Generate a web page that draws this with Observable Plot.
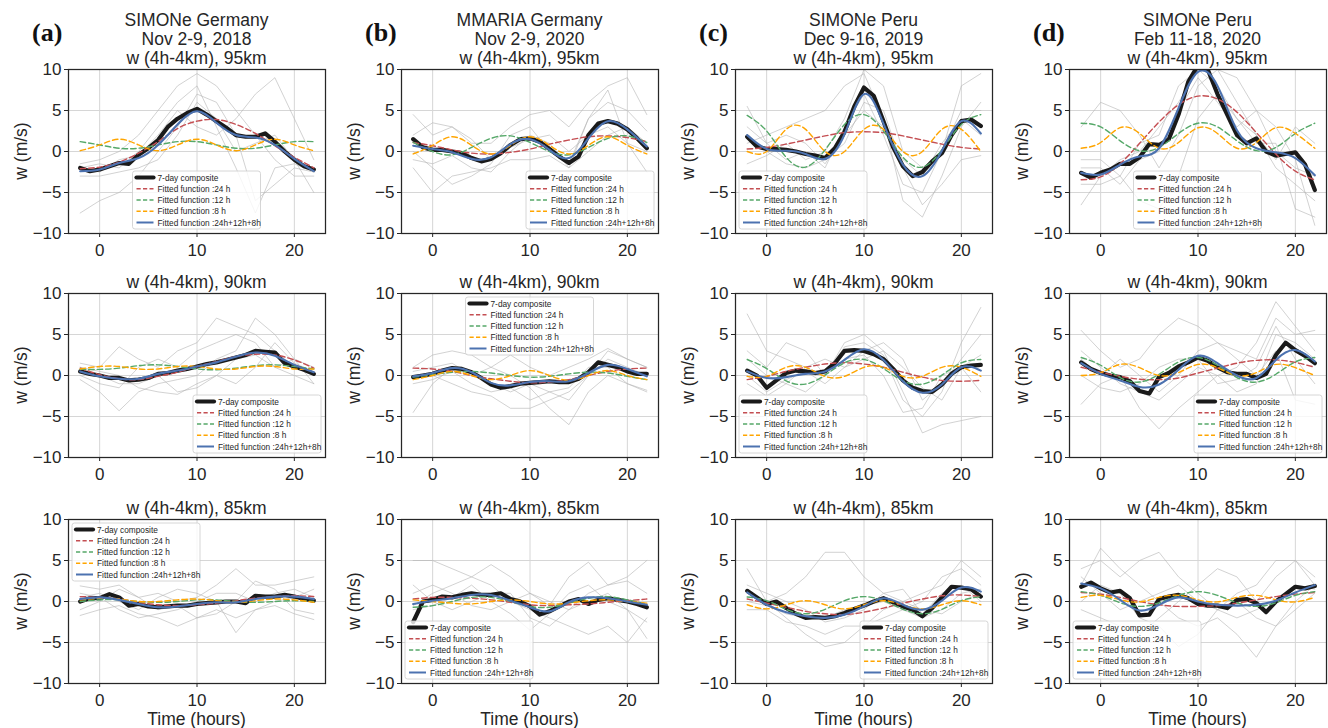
<!DOCTYPE html>
<html>
<head>
<meta charset="utf-8">
<script src="https://cdn.jsdelivr.net/npm/d3@7"></script>
<script src="https://cdn.jsdelivr.net/npm/@observablehq/plot@0.6"></script>
<style>
  html, body { margin: 0; padding: 0; background: #fff; }
  #root { position: relative; width: 1328px; height: 728px; overflow: hidden; background: #fff; }
  #root > .panel { position: absolute; }
  #overlay { position: absolute; left: 0; top: 0; z-index: 5; pointer-events: none; }
</style>
</head>
<body>
<div id="root"></div>
<script>
// ---------------- DATA ----------------
const hoursFit  = [-2, 0, 2, 4, 6, 8, 10, 12, 14, 16, 18, 20, 22];
const hoursComp = [-2, -1, 0, 1, 2, 3, 4, 5, 6, 7, 8, 9, 10, 11, 12, 13, 14, 15, 16, 17, 18, 19, 20, 21, 22];
const xTicks = [0, 10, 20];
const yTicks = [-10, -5, 0, 5, 10];

const siteNames = ["SIMONe Germany", "MMARIA Germany", "SIMONe Peru", "SIMONe Peru"];
const periods   = ["Nov 2-9, 2018", "Nov 2-9, 2020", "Dec 9-16, 2019", "Feb 11-18, 2020"];
const letters   = ["(a)", "(b)", "(c)", "(d)"];
const altitudes = ["95km", "90km", "85km"];
const legendLabels = ["7-day composite", "Fitted function :24 h", "Fitted function :12 h", "Fitted function :8 h", "Fitted function :24h+12h+8h"];

// ---- (a) SIMONe Germany 2018 ----
const a95_comp = [-2.0,-2.4,-2.2,-1.8,-1.4,-1.5,-0.4,0.4,1.4,3.0,4.0,4.7,5.2,4.5,3.7,2.9,2.0,1.8,1.8,2.2,1.2,0.0,-1.0,-1.8,-2.2];
const a95_f24  = [-2.1,-1.9,-1.3,-0.2,1.2,2.8,3.7,3.9,3.3,2.2,0.7,-0.7,-2.0];
const a95_f12  = [1.2,0.8,0.4,0.4,0.8,1.2,1.2,0.8,0.4,0.4,0.8,1.2,1.2];
const a95_f8   = [0.1,0.8,1.5,0.8,0.1,0.8,1.5,0.8,0.1,0.8,1.5,0.8,0.1];
const a95_fall = [-2.4,-2.2,-1.4,-0.8,0.8,3.3,4.9,3.5,2.0,1.7,0.8,-0.9,-2.4];
const a95_gray = [
  [-1.5,-1,0,2,5,8,9.5,8,5,2,-1,-3,-3],
  [-7.5,-6,-5,-3,0,3,7,6,2,-6,-4,-2,-2.5],
  [-2,-2.5,-1,-0.5,2,5,3,2,4,7,9,4,-1],
  [-3,-3,-2.5,-2,-1,2,6,4,0,1,2,-1,-5],
  [-2,-1.5,-2,0,3,6,8,3,-2,-7.5,-2,-1.5,-2.5]
];
const a90_comp = [0.5,0.2,0.0,-0.3,-0.3,-0.6,-0.5,-0.3,0.2,0.3,0.6,0.8,1.1,1.4,1.6,1.9,2.2,2.5,3.0,2.9,2.8,1.5,1.1,0.7,0.2];
const a90_f24  = [0.9,0.1,-0.4,-0.5,-0.1,0.4,1.1,1.7,2.3,2.6,2.5,1.9,0.9];
const a90_f12  = [0.75,0.75,0.9,1.2,1.3,1.1,0.8,0.7,0.9,1.2,1.3,1.1,0.8];
const a90_f8   = [0.8,1.1,1.1,0.8,0.8,1.1,1.1,0.8,0.8,1.1,1.1,0.8,0.8];
const a90_fall = [0.5,-0.1,-0.4,-0.4,0.2,0.6,1.1,1.6,2.3,2.8,2.4,1.3,0.4];
const a90_gray = [
  [1.5,1,3.5,2,1,3,4,7,6,5,3,1,0],
  [-0.5,-2,-4.3,-2,-1,-0.5,0,2,3,7,5,2,-1],
  [1,0.5,0,-1.5,-2,-2.3,-1,0,-1,1,4,1.5,0.5],
  [0,-1,-1.5,1,2,1,3,4,5,4,1,0,-1],
  [1,0,-1,-1,0,-2,-1.5,0,2,2.5,1,2,1]
];
const a85_comp = [0.0,0.4,0.4,0.9,0.5,-0.5,-0.3,-0.6,-0.7,-0.6,-0.5,-0.5,-0.3,-0.2,-0.1,0.0,0.0,-0.2,0.7,0.6,0.6,0.8,0.6,0.3,0.1];
const a85_f24  = [0.6,0.5,0.3,-0.1,-0.4,-0.5,-0.4,-0.2,0.1,0.4,0.6,0.7,0.6];
const a85_f12  = [0.0,0.2,0.2,0.0,-0.1,0.0,0.2,0.2,0.0,-0.1,0.0,0.1,0.0];
const a85_f8   = [0.2,0.4,0.3,0.0,0.0,0.2,0.3,0.1,-0.1,0.1,0.3,0.2,-0.1];
const a85_fall = [0.3,0.5,0.2,-0.3,-0.7,-0.6,-0.3,-0.1,-0.1,0.3,0.6,0.6,0.3];
const a85_gray = [
  [-1.7,-1,-0.5,-1.5,-2,-3,-2,-1,-2,-1,-0.5,-1.5,-2.2],
  [1.9,1.5,2,0.5,1,0,0.5,2,4,2,2,2.5,3],
  [0.5,1,0,-1,0.5,1.5,1,0,-3.8,-1,0,0.5,1.5],
  [-1,0,1.5,0.5,-1,-0.5,-2,-1.5,0,2.5,1.5,-1,-1.5],
  [1,0.5,-1,-2,-1.5,-1,0,1,1,0,1,1.5,0.5]
];

// ---- (b) MMARIA Germany 2020 ----
const b95_comp = [1.5,0.5,0.2,0.2,0.0,-0.2,-0.8,-1.2,-0.9,-0.2,0.8,1.5,1.6,1.2,0.3,-0.6,-1.4,-0.6,2.0,3.4,3.7,3.4,2.7,1.6,0.4];
const b95_f24  = [1.1,0.7,0.2,-0.2,-0.3,-0.1,0.3,0.9,1.4,1.8,1.9,1.7,1.2];
const b95_f12  = [1.1,0.0,-0.4,0.5,1.6,1.9,1.1,0.0,-0.4,0.5,1.6,1.9,1.1];
const b95_f8   = [-0.3,0.75,1.8,0.75,-0.3,0.75,1.8,0.75,-0.3,0.75,1.8,0.75,-0.3];
const b95_fall = [0.7,0.3,-0.1,-0.9,-0.7,0.9,1.5,0.2,-0.8,1.6,3.7,2.7,0.6];
const b95_gray = [
  [4.5,2,3,1,1,3,4.5,5,3,6,8,9,4.5],
  [-2,-5,-3,-2.5,-2,-1,-1,-0.5,-2,4,6,5,2.5],
  [2,3.5,3,1.5,-1,0.5,1.5,2,0,2,3,1,-2.5],
  [-1,-1.5,-0.5,-2,-2.5,0,2,1,-2,0,2,3,1],
  [0,-2,-4,-3,-1.5,2,3,0,-1.5,4,7.5,1,0]
];
const b90_comp = [-0.2,0.0,0.2,0.6,0.9,0.8,0.4,-0.3,-1.1,-1.5,-1.3,-1.0,-0.9,-0.8,-0.7,-0.8,-0.8,-0.4,0.4,1.6,1.3,1.0,0.5,0.2,0.2];
const b90_f24  = [0.9,0.8,0.5,0.0,-0.4,-0.7,-0.9,-0.8,-0.5,0.0,0.5,0.8,0.9];
const b90_f12  = [-0.2,0.1,0.4,0.5,0.3,0.0,-0.2,-0.1,0.2,0.4,0.3,-0.1,-0.5];
const b90_f8   = [-0.5,0.0,0.5,0.0,-0.5,0.0,0.6,0.0,-0.6,0.0,0.6,0.0,-0.5];
const b90_fall = [-0.1,0.3,0.9,0.4,-0.9,-1.2,-0.8,-0.7,-0.7,0.3,1.3,0.8,-0.1];
const b90_gray = [
  [-4.5,-1,1,0.5,-1,-2,-1,-2,-3,0,2,1,0],
  [1,2.5,3,2.5,1,0,-1.5,-4,-6,-2,0,-1,-2],
  [0,0,-1,-2,-2.5,-4,-4,-3,-2,0,3,2,1],
  [0.5,1,1.5,0,1,2.5,1,0,1,2,3.3,2,1],
  [-1,-0.5,0.5,-1,-2,-1.5,-3,-2,-1.5,1,1,-1,-1.8]
];
const b85_comp = [-2.5,0.0,0.2,0.6,0.5,0.8,1.0,0.8,0.8,1.0,0.3,0.0,-0.6,-1.6,-1.2,-0.6,0.0,0.3,-0.3,0.2,0.4,0.2,0.0,-0.3,-0.7];
const b85_f24  = [0.3,0.5,0.5,0.4,0.2,-0.1,-0.4,-0.5,-0.4,-0.3,-0.1,0.1,0.3];
const b85_f12  = [-0.7,-0.5,0.0,0.5,0.5,0.0,-0.6,-0.7,-0.2,0.4,0.6,0.2,-0.3];
const b85_f8   = [0.2,0.0,-0.2,-0.3,0.0,0.2,0.0,-0.3,-0.2,0.1,0.2,0.0,-0.2];
const b85_fall = [-0.3,0.1,0.4,0.8,0.8,0.1,-0.7,-1.2,-0.1,0.5,0.4,0.0,-0.4];
const b85_gray = [
  [5,5,4,3,2,0,-1,-2,-3,-4,-3,-5,-2],
  [-0.5,1,2,3,4.5,3,1,-0.5,3,4.8,2,3,5],
  [2,0,-1,0,1,1,-2,-3,-1,0,1,-1,-4.5],
  [-1,-0.5,0.5,2,0,-1.5,-3.5,-1.5,1,2,0,-1,-2.5],
  [1,2,1,-0.5,-1,0,1,0,-1,1,2,2.5,1]
];

// ---- (c) SIMONe Peru Dec 2019 ----
const c95_comp = [1.8,0.6,0.3,0.3,0.2,0.0,-0.3,-0.5,-0.8,0.4,2.4,5.5,7.8,6.8,3.7,0.5,-1.8,-3.0,-2.5,-1.2,-0.2,2.0,3.7,3.9,3.1];
const c95_f24  = [0.3,0.5,0.9,1.4,1.9,2.3,2.4,2.3,1.9,1.4,0.9,0.5,0.3];
const c95_f12  = [4.4,2.5,-0.7,-1.9,0.2,3.3,4.5,2.5,-0.7,-1.9,0.2,3.3,4.5];
const c95_f8   = [0.0,0.0,2.7,2.7,0.0,0.0,2.7,2.7,0.0,0.0,2.7,2.7,0.0];
const c95_fall = [2.0,0.3,0.1,-0.3,-0.9,2.1,7.0,3.4,-1.6,-3.0,0.1,3.7,2.2];
const c95_gray = [
  [1,2,3,4,5,8,9.5,4,-6,-8,-3,3,6],
  [5.5,1,-1,0,-2,3,7,2,-4,-5,0,8,9.5],
  [2,0,-1.5,-2,-1,1,6,5,-2,-6.5,-4,-1,-0.5],
  [-1.5,-0.5,1,-1,0,4,10,8,0,-2,0,5,5],
  [3,1,2,1,-1.5,2,5,3,-1,-3,1,4,2]
];
const c90_comp = [0.6,0.0,-1.5,-0.6,0.3,0.6,0.5,0.3,0.5,1.5,3.0,3.1,3.0,2.6,2.0,0.8,-0.6,-1.5,-1.9,-2.0,-1.1,0.2,1.0,1.2,1.3];
const c90_f24  = [-0.5,-0.1,0.5,1.0,1.4,1.55,1.4,1.0,0.4,-0.2,-0.6,-0.7,-0.6];
const c90_f12  = [1.95,0.85,-0.65,-1.05,0.05,1.55,1.95,0.85,-0.65,-1.05,0.05,1.55,1.95];
const c90_f8   = [-0.1,-0.1,1.0,1.0,-0.1,-0.1,1.0,1.0,-0.1,-0.1,1.0,1.0,-0.1];
const c90_fall = [0.5,-0.3,-0.2,0.2,0.5,1.9,3.2,1.9,-0.7,-2.1,-1.1,1.0,0.6];
const c90_gray = [
  [7.5,3,2,1,0,4,5,3,-2,-7,-6,-5.5,-5],
  [2,0,-1,-2,0,3.5,4,2.5,-3,-5,-2,4,8.3],
  [-1,-2.5,-1,1,2,1,3,4,2,-3,-1,2,5],
  [3,1,4,3,0,2,2.5,0,-4.5,-4,0,1,-2],
  [0,-2,-0.5,0.5,-1,1,2,3,1,-1.5,-3,1,2.5]
];
const c85_comp = [1.3,0.5,-0.3,0.0,-0.8,-1.5,-2.0,-1.9,-2.0,-1.8,-1.4,-0.9,-0.5,0.0,0.4,-0.1,-0.6,-1.0,-1.8,-0.8,0.5,1.8,1.7,1.5,0.6];
const c85_f24  = [0.3,-0.2,-0.7,-1.2,-1.5,-1.6,-1.3,-0.8,-0.2,0.3,0.7,0.8,0.6];
const c85_f12  = [0.55,0.1,-0.95,-1.5,-0.95,0.1,0.6,0.1,-0.95,-1.5,-0.95,0.1,0.6];
const c85_f8   = [-0.4,-0.9,-0.4,0.1,-0.4,-0.9,-0.4,0.1,-0.4,-0.9,-0.4,0.1,-0.4];
const c85_fall = [1.1,-0.4,-1.3,-1.8,-2.0,-1.6,-0.6,0.4,-0.4,-1.0,0.1,1.7,1.2];
const c85_gray = [
  [1,0,1,3,6,6,3,1,0,-1,-1.5,0,1],
  [4,0,-2,-4,-5.5,-5,-3,-1,0,1,2,5,3],
  [-1,-1,-2.5,-3,-4,-3,-3,-2,-1,0,3,4,2],
  [2,1,0,-1,-2.5,-2,-1,1,1.5,-1.5,1,2,0],
  [0,-0.5,-1.5,-2,-2,-1,-0.5,0,-1,-2,-1,1,1.5]
];

// ---- (d) SIMONe Peru Feb 2020 ----
const d95_comp = [-2.6,-3.2,-2.6,-2.2,-1.5,-1.5,-0.7,0.9,0.8,1.5,4.5,8.5,10.5,10.0,7.0,4.5,2.0,1.0,1.6,0.0,-0.5,-0.3,-0.1,-1.6,-4.7];
const d95_f24  = [-3.45,-3.1,-1.5,1.0,3.6,5.7,6.75,6.4,4.8,2.3,-0.3,-2.4,-3.45];
const d95_f12  = [3.45,3.0,1.3,0.1,0.5,2.2,3.45,3.0,1.3,0.1,0.5,2.2,3.45];
const d95_f8   = [0.4,1.1,2.9,2.2,0.4,1.1,2.9,2.2,0.4,1.1,2.9,2.2,0.4];
const d95_fall = [-2.6,-2.8,-1.6,-0.6,0.4,5.3,9.7,8.0,2.6,0.4,-0.1,-0.8,-2.9];
const d95_gray = [
  [-6.5,-3,-1,0,3,6,10,10,6,2,-2,-4,-6],
  [3,6,5,2,-2,2,8,10,9,5,3,-1,-9],
  [-1,-1,-3,-6,-7,-3,4,7,4,1,1,-7,-8],
  [-4,-4,-3,1,2,8,10,8,4,2,-1,3,1],
  [-2,-2,-4,-1,0,5,9,6,3,5,0,-2,-3]
];
const d90_comp = [1.6,0.8,0.3,0.0,-0.2,-0.7,-1.9,-2.2,-0.2,0.3,1.1,1.6,2.2,1.8,1.0,0.4,0.2,0.2,-0.3,0.2,2.5,4.0,3.1,2.4,1.5];
const d90_f24  = [1.0,0.4,-0.1,-0.45,-0.5,-0.3,0.3,0.9,1.5,1.85,1.9,1.6,1.0];
const d90_f12  = [2.2,1.25,-0.25,-0.8,0.15,1.65,2.2,1.25,-0.25,-0.8,0.15,1.65,2.2];
const d90_f8   = [0.0,0.35,1.35,0.95,0.0,0.35,1.35,0.95,0.0,0.35,1.35,0.95,0.0];
const d90_fall = [1.5,0.2,-0.6,-1.4,-1.1,0.7,2.4,1.5,0.0,-0.3,1.9,3.1,1.7];
const d90_gray = [
  [5.5,3,1,2,5,7,6,4,3,2,7,5,5.5],
  [-3.5,-1,0,-4,-6.5,-4,-2,0,1,4,9,6,3],
  [2,0,2,0,-2,0,3,4,2,0,3,-3,-3.5],
  [3,1,-1,-2,-3,-1,1,0,-2,-1,5,4,2],
  [0,-1.5,-2,-1,1,2,2,-1,-0.5,1,6,2,-1]
];
const d85_comp = [1.8,2.3,1.6,1.1,1.3,0.4,-1.7,-1.6,0.3,0.6,0.8,0.4,-0.3,-0.5,-0.5,-0.8,0.2,0.3,-0.2,-1.3,0.0,0.9,1.8,1.6,1.9];
const d85_f24  = [1.1,0.9,0.5,0.0,-0.4,-0.6,-0.6,-0.5,-0.2,0.2,0.6,0.9,1.1];
const d85_f12  = [1.2,0.75,-0.15,-0.6,-0.15,0.75,1.2,0.75,-0.15,-0.6,-0.15,0.75,1.2];
const d85_f8   = [0.5,0.75,0.2,-0.05,0.5,0.75,0.2,-0.05,0.5,0.75,0.2,-0.05,0.5];
const d85_fall = [2.2,1.6,0.2,-1.1,-0.4,0.5,0.0,-0.4,-0.5,-0.4,0.1,1.1,2.0];
const d85_gray = [
  [2,6.5,4,2,0,-2,-3,-2,-4,-6.8,-3,-1,1],
  [-1,-2,-3,-4,-2,0,2,4,3,0,3,5,2],
  [4,5,3,5,6,3,1,-1,1,2,5,5,3],
  [0,2,1,-2,-3,-5.5,-4,-1,0,-2,-3,0,2],
  [3,1,-1,0,1,2,0,-1,-2,-1,0,2,1.5]
];

// ---------------- LAYOUT / STYLE ----------------
const FONT = "'Liberation Sans', Arial, Helvetica, sans-serif";
const INK = "#262626";
const C_RED = "#C44E52", C_GREEN = "#55A868", C_ORANGE = "#FFA500", C_BLUE = "#4C72B0";
const PW = 257, PH = 164;
const ML = 46, MR = 3, MT = 3, MB = 30;
const colLeft = [68, 401, 735, 1069];
const rowTop  = [69, 293, 519];

const panels = [
  {col:0,row:0,comp:a95_comp,f24:a95_f24,f12:a95_f12,f8:a95_f8,fall:a95_fall,gray:a95_gray,legend:"lower center"},
  {col:1,row:0,comp:b95_comp,f24:b95_f24,f12:b95_f12,f8:b95_f8,fall:b95_fall,gray:b95_gray,legend:"lower right"},
  {col:2,row:0,comp:c95_comp,f24:c95_f24,f12:c95_f12,f8:c95_f8,fall:c95_fall,gray:c95_gray,legend:"lower left"},
  {col:3,row:0,comp:d95_comp,f24:d95_f24,f12:d95_f12,f8:d95_f8,fall:d95_fall,gray:d95_gray,legend:"lower center"},
  {col:0,row:1,comp:a90_comp,f24:a90_f24,f12:a90_f12,f8:a90_f8,fall:a90_fall,gray:a90_gray,legend:"lower right"},
  {col:1,row:1,comp:b90_comp,f24:b90_f24,f12:b90_f12,f8:b90_f8,fall:b90_fall,gray:b90_gray,legend:"upper center"},
  {col:2,row:1,comp:c90_comp,f24:c90_f24,f12:c90_f12,f8:c90_f8,fall:c90_fall,gray:c90_gray,legend:"lower left"},
  {col:3,row:1,comp:d90_comp,f24:d90_f24,f12:d90_f12,f8:d90_f8,fall:d90_fall,gray:d90_gray,legend:"lower right"},
  {col:0,row:2,comp:a85_comp,f24:a85_f24,f12:a85_f12,f8:a85_f8,fall:a85_fall,gray:a85_gray,legend:"upper left"},
  {col:1,row:2,comp:b85_comp,f24:b85_f24,f12:b85_f12,f8:b85_f8,fall:b85_fall,gray:b85_gray,legend:"lower left"},
  {col:2,row:2,comp:c85_comp,f24:c85_f24,f12:c85_f12,f8:c85_f8,fall:c85_fall,gray:c85_gray,legend:"lower right"},
  {col:3,row:2,comp:d85_comp,f24:d85_f24,f12:d85_f12,f8:d85_f8,fall:d85_fall,gray:d85_gray,legend:"lower left"}
];

const root = document.getElementById("root");
const fmt = d => d < 0 ? "\u2212" + Math.abs(d) : String(d);
const fitRows = arr => arr.map((v, i) => ({x: hoursFit[i], y: v}));

for (const p of panels) {
  const grayRows = p.gray.flatMap((arr, k) => arr.map((v, i) => ({x: hoursFit[i], y: v, k})));
  const compRows = p.comp.map((v, i) => ({x: hoursComp[i], y: v}));
  const chart = Plot.plot({
    width: PW + ML + MR,
    height: PH + MT + MB,
    marginLeft: ML, marginRight: MR, marginTop: MT, marginBottom: MB,
    style: {fontFamily: FONT, fontSize: "17px", color: INK, background: "transparent", overflow: "visible"},
    x: {domain: [-3.2, 23.2]},
    y: {domain: [-10, 10]},
    marks: [
      Plot.gridX(xTicks, {stroke: "#d6d6d6", strokeOpacity: 1, strokeWidth: 1}),
      Plot.gridY(yTicks, {stroke: "#d6d6d6", strokeOpacity: 1, strokeWidth: 1}),
      Plot.line(grayRows, {x: "x", y: "y", z: "k", stroke: "#b4b4b4", strokeOpacity: 0.6, strokeWidth: 1, clip: true}),
      Plot.line(compRows, {x: "x", y: "y", stroke: "#1a1a1a", strokeWidth: 4.2, clip: true}),
      Plot.line(fitRows(p.f24), {x: "x", y: "y", stroke: C_RED, strokeWidth: 1.4, strokeDasharray: "5.5,3", curve: "natural", clip: true}),
      Plot.line(fitRows(p.f12), {x: "x", y: "y", stroke: C_GREEN, strokeWidth: 1.4, strokeDasharray: "5.5,3", curve: "natural", clip: true}),
      Plot.line(fitRows(p.f8),  {x: "x", y: "y", stroke: C_ORANGE, strokeWidth: 1.4, strokeDasharray: "5.5,3", curve: "natural", clip: true}),
      Plot.line(fitRows(p.fall), {x: "x", y: "y", stroke: C_BLUE, strokeWidth: 2.1, curve: "natural", clip: true}),
      Plot.frame({stroke: INK, strokeWidth: 1.25}),
      Plot.axisX(xTicks, {tickSize: 4, tickPadding: 6, label: null, fontSize: 17, stroke: INK}),
      Plot.axisY(yTicks, {tickSize: 4, tickPadding: 3, label: null, fontSize: 17, tickFormat: fmt, stroke: INK})
    ]
  });
  chart.classList.add("panel");
  chart.style.left = (colLeft[p.col] - ML) + "px";
  chart.style.top = (rowTop[p.row] - MT) + "px";
  root.appendChild(chart);
}

// ---------------- TEXT OVERLAY + LEGENDS ----------------
const NS = "http://www.w3.org/2000/svg";
const ov = document.createElementNS(NS, "svg");
ov.setAttribute("id", "overlay");
ov.setAttribute("width", 1328);
ov.setAttribute("height", 728);
root.appendChild(ov);

function text(str, x, y, opts = {}) {
  const t = document.createElementNS(NS, "text");
  t.setAttribute("x", x);
  t.setAttribute("y", y);
  t.setAttribute("text-anchor", opts.anchor || "middle");
  t.setAttribute("font-family", opts.family || FONT);
  t.setAttribute("font-size", opts.size || 17.5);
  if (opts.weight) t.setAttribute("font-weight", opts.weight);
  t.setAttribute("fill", opts.fill || INK);
  if (opts.transform) t.setAttribute("transform", opts.transform);
  t.textContent = str;
  ov.appendChild(t);
  return t;
}
function el(name, attrs) {
  const e = document.createElementNS(NS, name);
  for (const k in attrs) e.setAttribute(k, attrs[k]);
  ov.appendChild(e);
  return e;
}

// titles & labels
for (let c = 0; c < 4; c++) {
  const cx = colLeft[c] + PW / 2;
  text(siteNames[c], cx, 25.5);
  text(periods[c], cx, 44.5);
  text(letters[c], colLeft[c] - 36, 41, {anchor: "start", family: "'Liberation Serif', 'Times New Roman', serif", size: 26, weight: "bold", fill: "#111"});
  for (let r = 0; r < 3; r++) {
    const ty = r === 0 ? 63.5 : rowTop[r] - 5.5;
    text("w (4h-4km), " + altitudes[r], cx, ty);
    const yx = colLeft[c] - 41, yy = rowTop[r] + PH / 2;
    text("w (m/s)", yx, yy, {transform: `rotate(-90 ${yx} ${yy})`});
  }
  text("Time (hours)", cx, 725);
}

// legends
const LW = 128, LH = 58, LPAD = 4;
const legendStyles = [
  {stroke: "#1a1a1a", width: 4.2, dash: null},
  {stroke: C_RED, width: 1.4, dash: "4.2,2.3"},
  {stroke: C_GREEN, width: 1.4, dash: "4.2,2.3"},
  {stroke: C_ORANGE, width: 1.4, dash: "4.2,2.3"},
  {stroke: C_BLUE, width: 2, dash: null}
];
for (const p of panels) {
  const L = colLeft[p.col], T = rowTop[p.row];
  const [v, h] = p.legend.split(" ");
  const lx = h === "left" ? L + LPAD : h === "right" ? L + PW - LPAD - LW : L + PW / 2 - LW / 2;
  const ly = v === "upper" ? T + LPAD : T + PH - LPAD - LH;
  el("rect", {x: lx, y: ly, width: LW, height: LH, rx: 2.5, fill: "#fff", "fill-opacity": 0.8, stroke: "#cccccc", "stroke-width": 0.8});
  legendLabels.forEach((lab, i) => {
    const yy = ly + 6.5 + i * 11.25;
    const s = legendStyles[i];
    const a = {x1: lx + 4, x2: lx + 21, y1: yy, y2: yy, stroke: s.stroke, "stroke-width": s.width, "stroke-linecap": i === 0 ? "round" : "butt"};
    if (s.dash) a["stroke-dasharray"] = s.dash;
    el("line", a);
    text(lab, lx + 25, yy + 3, {anchor: "start", size: 8.3});
  });
}
</script>
</body>
</html>
